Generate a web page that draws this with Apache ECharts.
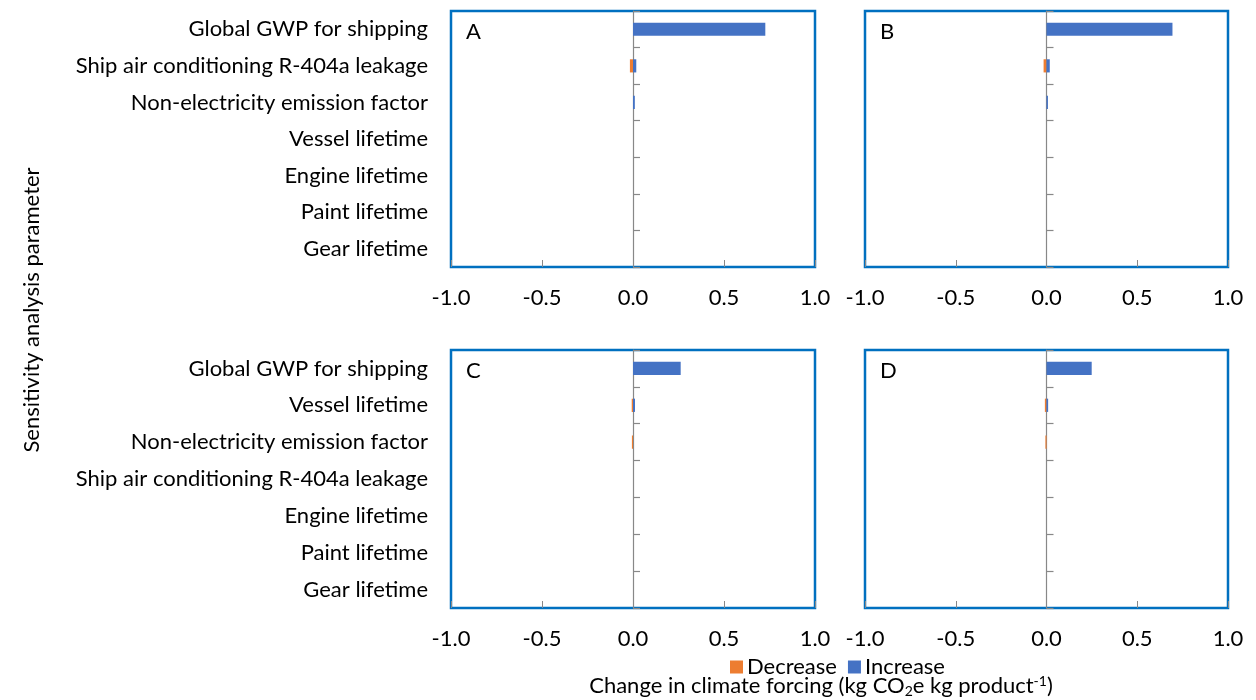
<!DOCTYPE html>
<html><head><meta charset="utf-8">
<script src="https://cdn.jsdelivr.net/npm/echarts@6/dist/echarts.min.js"></script>
<style>html,body{margin:0;padding:0;background:#fff}#c{width:1256px;height:700px}</style>
</head><body><div id="c"></div>
<script>
const categoriesAB = ["Global GWP for shipping","Ship air conditioning R-404a leakage","Non-electricity emission factor","Vessel lifetime","Engine lifetime","Paint lifetime","Gear lifetime"];
const categoriesCD = ["Global GWP for shipping","Vessel lifetime","Non-electricity emission factor","Ship air conditioning R-404a leakage","Engine lifetime","Paint lifetime","Gear lifetime"];
const decreaseA = [0, -0.017, 0, 0, 0, 0, 0];
const increaseA = [0.727, 0.018, 0.010, 0, 0, 0, 0];
const decreaseB = [0, -0.016, 0, 0, 0, 0, 0];
const increaseB = [0.694, 0.018, 0.008, 0, 0, 0, 0];
const decreaseC = [0, -0.007, -0.006, 0, 0, 0, 0];
const increaseC = [0.262, 0.011, 0, 0, 0, 0, 0];
const decreaseD = [0, -0.009, -0.006, 0, 0, 0, 0];
const increaseD = [0.249, 0.009, 0, 0, 0, 0, 0];
const xTicks = {min: -1, max: 1, interval: 0.5};
const panelLabels = ["A","B","C","D"];

const FONT = 'Lato';
const FS = 22;
const BLUE = '#4472C4', ORANGE = '#ED7D31', BORDER = '#0070C0';
const grids = [
  {left: 451, top: 11, width: 364, height: 256},
  {left: 865, top: 11, width: 363, height: 256},
  {left: 451, top: 350, width: 364, height: 258},
  {left: 865, top: 350, width: 363, height: 258}
];
const panels = [
  {cats: categoriesAB, dec: decreaseA, inc: increaseA, labels: true},
  {cats: categoriesAB, dec: decreaseB, inc: increaseB, labels: false},
  {cats: categoriesCD, dec: decreaseC, inc: increaseC, labels: true},
  {cats: categoriesCD, dec: decreaseD, inc: increaseD, labels: false}
];
const option = {
  animation: false,
  textStyle: {fontFamily: FONT},
  grid: grids.map(g => Object.assign({show: true, borderColor: BORDER, borderWidth: 2.5, backgroundColor: 'transparent'}, g)),
  xAxis: grids.map((g, i) => ({
    type: 'value', gridIndex: i, min: xTicks.min, max: xTicks.max, interval: xTicks.interval,
    axisLine: {show: false},
    axisTick: {show: true, inside: true, length: 7, lineStyle: {color: '#888', width: 1}},
    splitLine: {show: false},
    axisLabel: {margin: 20, fontSize: FS, color: '#000', fontFamily: FONT, formatter: v => v.toFixed(1)}
  })),
  yAxis: [],
  series: [],
  legend: {
    left: 725, top: 651, icon: 'rect', itemWidth: 13, itemHeight: 13, itemGap: 11,
    textStyle: {fontSize: FS, color: '#000', fontFamily: FONT, padding: [0,0,0,-1]},
    data: ['Decrease', 'Increase']
  },
  graphic: []
};
const nz = arr => arr.map(v => (v === 0 ? '-' : v));
panels.forEach((p, i) => {
  option.yAxis.push({
    type: 'category', gridIndex: i, data: p.cats, inverse: true,
    axisLine: {show: true, onZero: true, lineStyle: {color: '#888', width: 1.2}},
    axisTick: {show: true, inside: true, length: 7, lineStyle: {color: '#888', width: 1.2}},
    axisLabel: {show: false}, splitLine: {show: false}
  });
  option.yAxis.push({
    type: 'category', gridIndex: i, data: p.cats, inverse: true, position: 'left',
    axisLine: {show: false, onZero: false}, axisTick: {show: false},
    axisLabel: {show: p.labels, margin: 23, fontSize: FS, color: '#000', fontFamily: FONT},
    splitLine: {show: false}
  });
  option.series.push({
    name: 'Decrease', type: 'bar', xAxisIndex: i, yAxisIndex: 2 * i, data: nz(p.dec),
    barWidth: '36%', barGap: '-100%', itemStyle: {color: ORANGE}
  });
  option.series.push({
    name: 'Increase', type: 'bar', xAxisIndex: i, yAxisIndex: 2 * i, data: nz(p.inc),
    barWidth: '36%', barGap: '-100%', itemStyle: {color: BLUE}
  });
  option.graphic.push({
    type: 'text', left: grids[i].left + 15, top: grids[i].top + 10,
    style: {text: panelLabels[i], fontSize: FS, fill: '#000', fontFamily: FONT}
  });
});
option.graphic.push({
  type: 'text', x: 32, y: 310, rotation: Math.PI / 2,
  style: {text: 'Sensitivity analysis parameter', fontSize: FS, fill: '#000', fontFamily: FONT, align: 'center', verticalAlign: 'middle'}
});
option.graphic.push({
  type: 'text', x: 821, y: 686,
  style: {
    text: '{n|Change in climate forcing (kg CO}{sub|2}{n|e kg product}{sup|-1}{n|)}',
    align: 'center', verticalAlign: 'middle',
    rich: {
      n: {fontSize: FS, fontFamily: FONT, fill: '#000', height: 28, verticalAlign: 'middle'},
      sub: {fontSize: 14, fontFamily: FONT, fill: '#000', padding: [11, 0, 0, 0], height: 28},
      sup: {fontSize: 14, fontFamily: FONT, fill: '#000', padding: [0, 0, 10, 0], height: 28}
    }
  }
});
const chart = echarts.init(document.getElementById('c'));
chart.setOption(option);
</script></body></html>
